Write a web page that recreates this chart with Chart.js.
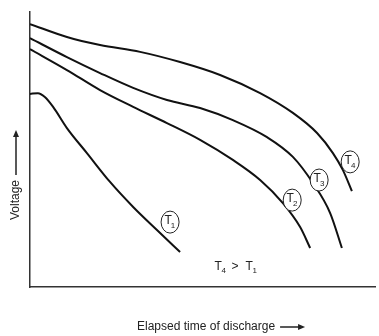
<!DOCTYPE html>
<html>
<head>
<meta charset="utf-8">
<script src="https://cdn.jsdelivr.net/npm/chart.js@4.4.0/dist/chart.umd.min.js"></script>
<style>
  html, body { margin: 0; padding: 0; background: #fff; }
  #wrap { width: 379px; height: 336px; }
</style>
</head>
<body>
<div id="wrap"><canvas id="chart"></canvas></div>
<script>
// valeurs (unites arbitraires 0..100)
var t1Time = [0, 2.3, 4.3, 6.7, 10.7, 16.5, 23.2, 29.9, 36.8, 43.5];
var t1Volt = [70.2, 70.5, 69.1, 65.5, 57.8, 48.7, 38.2, 29.1, 20.7, 12.7];

var t2Time = [0, 10.7, 20.3, 29.9, 39.7, 49.3, 58.8, 66.7, 73.3, 78.3, 81.2];
var t2Volt = [86.5, 78.9, 71.6, 65.5, 59.6, 53.5, 46.2, 38.9, 30.5, 21.8, 14.2];

var t3Time = [0, 10.7, 20.3, 29.9, 39.7, 49.3, 58.8, 68.7, 76.2, 82.0, 87.0, 90.4];
var t3Volt = [90.5, 83.6, 77.8, 72.4, 68.0, 65.1, 60.7, 54.5, 47.3, 37.8, 26.9, 14.2];

var t4Time = [0, 10.7, 20.3, 31.9, 43.5, 55.1, 66.7, 76.2, 83.2, 87.8, 90.7, 93.3];
var t4Volt = [95.6, 90.9, 88.0, 85.5, 81.8, 77.1, 70.5, 63.3, 56.0, 48.7, 42.5, 34.9];

var curveNames = ['1', '2', '3', '4'];
// position des etiquettes cerclees (x, y)
var tagX = [40.6, 76.0, 83.8, 92.8];
var tagY = [23.6, 31.6, 38.9, 45.5];

function toPoints(xs, ys) {
    return xs.map(function(x, i) { return {x: x, y: ys[i]}; });
}

function curve(xs, ys) {
    return {
        data: toPoints(xs, ys),
        borderColor: '#111',
        borderWidth: 2,
        pointRadius: 0,
        tension: 0.4,
        cubicInterpolationMode: 'monotone',
        fill: false
    };
}

// dessine les etiquettes et les titres d'axes
var annotations = {
    id: 'annotations',
    afterDatasetsDraw: function(chart) {
        var ctx = chart.ctx;
        var xs = chart.scales.x, ys = chart.scales.y;
        var area = chart.chartArea;
        ctx.save();
        ctx.strokeStyle = '#222';
        ctx.fillStyle = '#222';
        ctx.lineWidth = 1;
        for (var i = 0; i < curveNames.length; i++) {
            var cx = xs.getPixelForValue(tagX[i]);
            var cy = ys.getPixelForValue(tagY[i]);
            ctx.fillStyle = '#fff';
            ctx.beginPath();
            ctx.ellipse(cx, cy, 9, 11, 0, 0, Math.PI * 2);
            ctx.fill();
            ctx.stroke();
            ctx.fillStyle = '#222';
            ctx.textBaseline = 'middle';
            ctx.textAlign = 'center';
            ctx.font = '12px "Liberation Sans", Arial, sans-serif';
            ctx.fillText('T', cx - 2, cy - 1);
            ctx.font = '8px "Liberation Sans", Arial, sans-serif';
            ctx.fillText(curveNames[i], cx + 3, cy + 4);
        }
        // T4 > T1
        ctx.font = '12px "Liberation Sans", Arial, sans-serif';
        ctx.textAlign = 'left';
        var bx = xs.getPixelForValue(53.5), by = ys.getPixelForValue(7.3);
        ctx.fillText('T', bx, by);
        ctx.font = '8px "Liberation Sans", Arial, sans-serif';
        ctx.fillText('4', bx + 7, by + 4);
        ctx.font = '12px "Liberation Sans", Arial, sans-serif';
        ctx.fillText('>', bx + 17, by);
        ctx.fillText('T', bx + 31, by);
        ctx.font = '8px "Liberation Sans", Arial, sans-serif';
        ctx.fillText('1', bx + 38, by + 4);

        // titre axe x
        ctx.font = '12px "Liberation Sans", Arial, sans-serif';
        ctx.textAlign = 'left';
        ctx.textBaseline = 'middle';
        var tx = 137, ty = area.bottom + 40;
        ctx.fillText('Elapsed time of discharge', tx, ty);
        var w = ctx.measureText('Elapsed time of discharge').width;
        drawArrow(ctx, tx + w + 5, ty, tx + w + 30, ty);

        // titre axe y
        ctx.save();
        ctx.translate(16, 220);
        ctx.rotate(-Math.PI / 2);
        ctx.fillText('Voltage', 0, 0);
        var w2 = ctx.measureText('Voltage').width;
        drawArrow(ctx, w2 + 5, 0, w2 + 50, 0);
        ctx.restore();
        ctx.restore();
    }
};

function drawArrow(ctx, x1, y1, x2, y2) {
    ctx.lineWidth = 1.5;
    ctx.beginPath();
    ctx.moveTo(x1, y1);
    ctx.lineTo(x2 - 5, y2);
    ctx.stroke();
    ctx.beginPath();
    ctx.moveTo(x2, y2);
    ctx.lineTo(x2 - 7, y2 - 3);
    ctx.lineTo(x2 - 7, y2 + 3);
    ctx.closePath();
    ctx.fill();
}

const cfg = {
    type: 'line',
    data: {
        datasets: [
            curve(t1Time, t1Volt),
            curve(t2Time, t2Volt),
            curve(t3Time, t3Volt),
            curve(t4Time, t4Volt)
        ]
    },
    options: {
        responsive: true,
        maintainAspectRatio: false,
        animation: false,
        layout: { padding: { left: 30, right: 4, top: 12, bottom: 49 } },
        plugins: { legend: { display: false }, tooltip: { enabled: false } },
        scales: {
            x: {
                type: 'linear', min: 0, max: 100,
                grid: { display: false, drawTicks: false },
                border: { display: true, color: '#333', width: 1.5 },
                ticks: { display: false }
            },
            y: {
                type: 'linear', min: 0, max: 100,
                grid: { display: false, drawTicks: false },
                border: { display: true, color: '#333', width: 1.5 },
                ticks: { display: false }
            }
        }
    },
    plugins: [annotations]
};

const chartCtx = document.getElementById('chart');
window.myChart = new Chart(chartCtx, cfg);
</script>
</body>
</html>
